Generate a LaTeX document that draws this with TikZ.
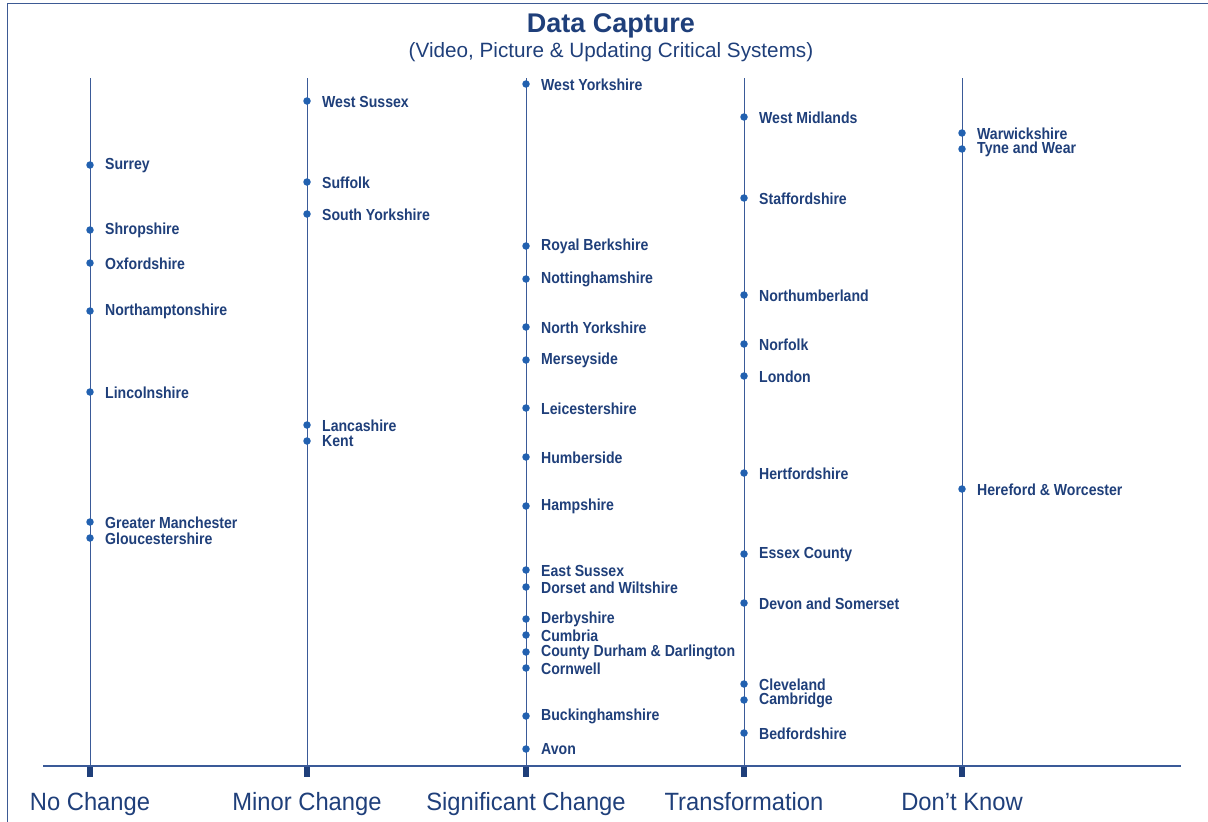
\documentclass[tikz,border=0pt]{standalone}
\usepackage{fontspec}
\setmainfont{Liberation Sans}
\newfontfamily\lblfont[FakeStretch=0.88]{Liberation Sans}
\newfontfamily\axfont[FakeStretch=0.95]{Liberation Sans}
\begin{document}
\begin{tikzpicture}[x=1pt,y=-1pt]
\definecolor{navy}{HTML}{1F3F7A}
\definecolor{linecol}{HTML}{3A5A98}
\definecolor{dotcol}{HTML}{2261B0}
\definecolor{framecol}{HTML}{3D5A94}
\tikzset{
  cdot/.style={circle,fill=dotcol,inner sep=0pt,minimum size=7.5pt},
  clabel/.style={anchor=west,inner sep=0pt,text=navy,font=\lblfont\bfseries\fontsize{16}{17}\selectfont},
  axlabel/.style={anchor=base,inner sep=0pt,text=navy,font=\axfont\fontsize{25}{26}\selectfont},
  colline/.style={draw=linecol,line width=0.9pt},
  tickmark/.style={fill=navy,draw=none},
}
\useasboundingbox (0,0) rectangle (1208,822);
% frame
\draw[framecol,line width=1.8pt] (7.5,822) -- (7.5,3.5) -- (1208,3.5);
% title
\node[text=navy,font=\bfseries\fontsize{27}{28}\selectfont,anchor=base] (title) at (611,32) {Data Capture};
\node[text=navy,font=\fontsize{20.7}{21}\selectfont,anchor=base] (subtitle) at (611,57) {(Video, Picture \& Updating Critical Systems)};
% axis
\coordinate (axL) at (43,766);
\coordinate (axR) at (1181,766);
\draw[linecol,line width=1.2pt] (axL) -- (axR);
% columns
\foreach \n/\x/\lab in {c1/90/No Change,c2/307/Minor Change,c3/526/Significant Change,c4/744/Transformation,c5/962/Don’t Know}{
  \coordinate (\n top) at (\x,78);
  \coordinate (\n bot) at (\x,766);
  \draw[colline] (\n top) -- (\n bot);
  \fill[tickmark] (\x-3,767) rectangle (\x+3,777);
  \node[axlabel] (\n ax) at (\x,810) {\lab};
}
% entries
\foreach \n/\x/\y/\lab in {
  a1/90/165/Surrey, a2/90/230/Shropshire, a3/90/263/Oxfordshire, a4/90/311/Northamptonshire, a5/90/392/Lincolnshire, a6/90/522/Greater Manchester, a7/90/538/Gloucestershire,
  b1/307/101/West Sussex, b2/307/182/Suffolk, b3/307/214/South Yorkshire, b4/307/425/Lancashire, b5/307/441/Kent,
  d1/526/84/West Yorkshire, d2/526/246/Royal Berkshire, d3/526/279/Nottinghamshire, d4/526/327/North Yorkshire, d5/526/360/Merseyside, d6/526/408/Leicestershire, d7/526/457/Humberside, d8/526/506/Hampshire, d9/526/570/East Sussex, d10/526/587/Dorset and Wiltshire, d11/526/619/Derbyshire, d12/526/635/Cumbria, d13/526/652/County Durham \& Darlington, d14/526/668/Cornwell, d15/526/716/Buckinghamshire, d16/526/749/Avon,
  e1/744/117/West Midlands, e2/744/198/Staffordshire, e3/744/295/Northumberland, e4/744/344/Norfolk, e5/744/376/London, e6/744/473/Hertfordshire, e7/744/554/Essex County, e8/744/603/Devon and Somerset, e9/744/684/Cleveland, e10/744/700/Cambridge, e11/744/733/Bedfordshire,
  f1/962/133/Warwickshire, f2/962/149/Tyne and Wear, f3/962/489/Hereford \& Worcester}{
  \node[cdot] (\n) at (\x,\y) {};
  \node[clabel] (\n l) at (\x+15,\y+0.5) {\lab};
}
\end{tikzpicture}
\end{document}
